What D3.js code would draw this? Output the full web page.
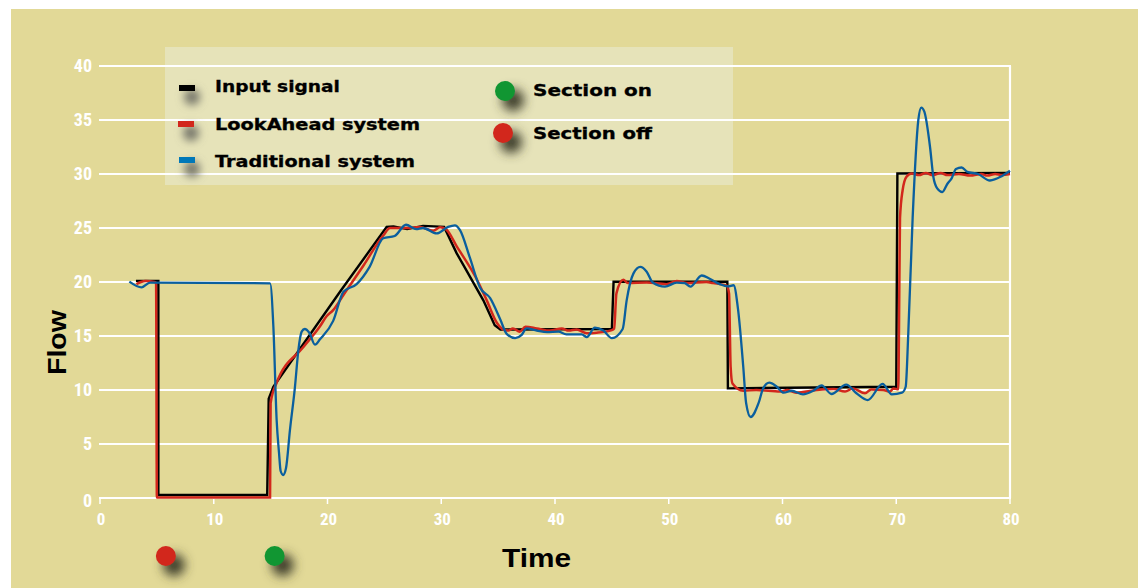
<!DOCTYPE html>
<html>
<head>
<meta charset="utf-8">
<script src="https://cdn.jsdelivr.net/npm/d3@7"></script>
<style>
  html, body { margin: 0; padding: 0; background: #fff; }
  svg { display: block; }
</style>
</head>
<body>
<div id="chart"></div>
<script>
var xTicks = [0, 10, 20, 30, 40, 50, 60, 70, 80];
var yTicks = [0, 5, 10, 15, 20, 25, 30, 35, 40];

var inputTime = [3.16, 5.13, 5.13, 14.7, 14.83, 15.24, 21.1, 25.2, 25.8, 27, 28.4, 30.25, 31.36, 31.95, 33.7, 34.7, 35.2, 45, 45.15, 55.15, 55.2, 70, 70.1, 80];
var inputFlow = [20.1, 20.1, 0.28, 0.28, 9.2, 10.3, 19.1, 25.1, 25.15, 24.9, 25.2, 25.1, 22.65, 21.57, 18.3, 16, 15.6, 15.65, 20.03, 20.03, 10.15, 10.3, 30.05, 30.1];

var lookTime = [3.2, 3.6, 4.0, 4.8, 4.93, 5.0, 14.95, 15.0, 15.5, 17.9, 19.34, 19.9, 20.5, 21.4, 23.15, 24.9, 25.5, 27, 28.1, 29.3, 29.9, 30.4, 31.36, 33.1, 34, 34.9, 35.45, 35.9, 36.3, 36.9, 37.4, 38.4, 39.56, 40.6, 41.2, 41.9, 42.8, 43.66, 45, 45.2, 45.4, 46, 46.4, 48.06, 49.8, 50.7, 51.6, 53.3, 53.9, 55.1, 55.3, 55.44, 55.6, 56.55, 57.7, 59.8, 60.4, 61.2, 63, 64.5, 65.5, 66.2, 67.25, 67.8, 68.85, 69.45, 69.75, 70.18, 70.24, 70.33, 70.56, 70.9, 71.35, 72, 72.6, 73.2, 73.9, 74.5, 75.5, 76.5, 77.5, 78, 78.7, 79.3, 80];
var lookFlow = [19.8, 20, 20.1, 20, 19.9, 0.05, 0.05, 8.8, 10.6, 14.0, 15.9, 16.8, 17.4, 18.8, 21.5, 24.3, 25, 25, 25.1, 24.75, 25.06, 24.9, 23.3, 20.3, 18.3, 16.2, 15.6, 15.5, 15.7, 15.4, 15.85, 15.7, 15.5, 15.7, 15.5, 15.6, 15.25, 15.3, 15.55, 15.7, 18.95, 20.2, 19.9, 19.95, 19.8, 20.1, 19.9, 20, 19.9, 19.65, 18.95, 12.15, 10.6, 9.93, 10, 9.85, 10, 9.75, 10, 10.1, 9.85, 10.15, 9.7, 10.05, 10, 9.85, 10.15, 10.06, 15.6, 25.9, 28.5, 29.75, 30.05, 29.9, 30.1, 29.9, 30.1, 29.9, 30, 29.85, 30, 29.85, 30, 29.9, 30];

var tradTime = [2.58, 3.66, 4.4, 14.95, 15.24, 15.53, 15.74, 15.88, 16.1, 16.35, 16.7, 17.14, 17.44, 17.73, 18.0, 18.4, 18.9, 19.34, 20.5, 21.4, 22.56, 23.7, 24.9, 25.9, 26.9, 27.8, 28.4, 29.6, 30.6, 31.2, 31.65, 32.5, 33.4, 34.3, 35.2, 35.75, 36.5, 37.07, 37.5, 38.4, 39.3, 40.3, 41.0, 42.35, 42.8, 43.5, 44.25, 45, 45.95, 46.3, 46.9, 47.5, 48.06, 48.6, 49.67, 50.7, 51.4, 51.9, 52.9, 53.6, 54.5, 55.2, 55.7, 56.1, 56.55, 56.8, 57.2, 57.9, 58.3, 58.84, 59.5, 60.1, 60.8, 61.8, 62.7, 63.44, 64.3, 65.6, 66.5, 67.5, 68.8, 69.6, 70.5, 70.83, 71.06, 71.44, 71.94, 72.2, 72.47, 72.97, 73.26, 73.6, 74.05, 74.5, 74.87, 75.25, 75.75, 76.25, 77.2, 78.24, 79.27, 80];
var tradFlow = [20.03, 19.5, 19.95, 19.88, 15.9, 7.2, 4.15, 2.5, 2.13, 2.75, 6.3, 10.3, 13.7, 15.4, 15.65, 15.3, 14.2, 14.7, 16.4, 19.1, 19.8, 21.4, 24.05, 24.26, 25.3, 24.9, 25, 24.5, 25.1, 25.25, 24.8, 22.3, 19.5, 18.5, 16.5, 15.2, 14.8, 15.1, 15.7, 15.5, 15.35, 15.4, 15.15, 15.15, 14.9, 15.77, 15.5, 14.8, 15.65, 18.3, 20.8, 21.4, 20.95, 19.95, 19.57, 19.94, 19.9, 19.57, 20.6, 20.3, 19.8, 19.6, 19.7, 17.4, 12.15, 8.8, 7.5, 8.8, 10.15, 10.68, 10.3, 9.75, 9.93, 9.6, 9.93, 10.43, 9.63, 10.5, 9.7, 9.07, 10.56, 9.6, 9.75, 10.3, 15.3, 25.9, 35, 36.15, 35.77, 32.5, 29.75, 28.67, 28.33, 29.1, 29.6, 30.46, 30.6, 30.2, 30, 29.4, 29.8, 30.3];

// switching events drawn under the axis
var offEvents = [5];
var onEvents = [15];

var width = 1144, height = 588;
var x = d3.scaleLinear().domain([0, 80]).range([100, 1010]);
var y = d3.scaleLinear().domain([0, 40]).range([498, 66]);

var svg = d3.select("#chart").append("svg")
    .attr("width", width)
    .attr("height", height);

var defs = svg.append("defs");

function softFilter(id, dev) {
  defs.append("filter")
      .attr("id", id)
      .attr("x", "-150%").attr("y", "-150%")
      .attr("width", "400%").attr("height", "400%")
    .append("feGaussianBlur").attr("stdDeviation", dev);
}
softFilter("soft", 5.5);
softFilter("softSmall", 4.5);

svg.append("rect")
    .attr("x", 11).attr("y", 9)
    .attr("width", 1127).attr("height", 579)
    .attr("fill", "#e2d997");

svg.append("rect")
    .attr("x", 165).attr("y", 47)
    .attr("width", 568).attr("height", 138)
    .attr("fill", "#e6e3b9");

// grid
svg.selectAll(".grid").data(yTicks).enter().append("line")
    .attr("class", "grid")
    .attr("x1", 99).attr("x2", 1011)
    .attr("y1", function(d) { return y(d); })
    .attr("y2", function(d) { return y(d); })
    .attr("stroke", "#fff")
    .attr("stroke-width", 2.2);

svg.append("line")
    .attr("x1", x(80)).attr("x2", x(80))
    .attr("y1", y(40)).attr("y2", y(0))
    .attr("stroke", "#fff")
    .attr("stroke-width", 2.2);

svg.selectAll(".xtick").data(xTicks).enter().append("line")
    .attr("class", "xtick")
    .attr("x1", function(d) { return x(d); })
    .attr("x2", function(d) { return x(d); })
    .attr("y1", y(0))
    .attr("y2", y(0) + 6)
    .attr("stroke", "#fff")
    .attr("stroke-width", 1.5);

var tickFont = "'Liberation Sans Narrow', 'Roboto Condensed', 'Liberation Sans', sans-serif";

svg.selectAll(".xlabel").data(xTicks).enter().append("text")
    .attr("class", "xlabel")
    .attr("x", function(d) { return x(d) + 1; })
    .attr("y", 525)
    .attr("text-anchor", "middle")
    .attr("font-family", tickFont)
    .attr("font-weight", "bold")
    .attr("font-size", 17)
    .attr("fill", "#fff")
    .text(function(d) { return d; });

svg.selectAll(".ylabel").data(yTicks).enter().append("text")
    .attr("class", "ylabel")
    .attr("x", 92)
    .attr("y", function(d) { return d == 0 ? 507 : y(d) + 5.5; })
    .attr("text-anchor", "end")
    .attr("font-family", tickFont)
    .attr("font-weight", "bold")
    .attr("font-size", 18)
    .attr("fill", "#fff")
    .text(function(d) { return d; });

// series
var stepLine = d3.line()
    .x(function(d) { return x(d[0]); })
    .y(function(d) { return y(d[1]); });

var smoothLine = d3.line()
    .x(function(d) { return x(d[0]); })
    .y(function(d) { return y(d[1]); })
    .curve(d3.curveMonotoneX);

svg.append("path")
    .attr("d", stepLine(d3.zip(inputTime, inputFlow)))
    .attr("fill", "none")
    .attr("stroke", "#000")
    .attr("stroke-width", 2.4);

svg.append("path")
    .attr("d", smoothLine(d3.zip(lookTime, lookFlow)))
    .attr("fill", "none")
    .attr("stroke", "#d2271c")
    .attr("stroke-width", 2.5);

svg.append("path")
    .attr("d", smoothLine(d3.zip(tradTime, tradFlow)))
    .attr("fill", "none")
    .attr("stroke", "#0a5f9e")
    .attr("stroke-width", 2.3);

function dot(cx, cy, color) {
  svg.append("circle")
      .attr("cx", cx + 8).attr("cy", cy + 9).attr("r", 11)
      .attr("fill", "#3c3c2c")
      .attr("filter", "url(#soft)");
  svg.append("circle")
      .attr("cx", cx).attr("cy", cy).attr("r", 10)
      .attr("fill", color);
}

offEvents.forEach(function(d) { dot(x(d) + 9, 556, "#d2271c"); });
onEvents.forEach(function(d) { dot(x(d) + 4, 556, "#119632"); });

// legend
var legendFont = "'DejaVu Sans', sans-serif";

function label(txt, lx, ly, len) {
  svg.append("text")
      .attr("x", lx).attr("y", ly)
      .attr("font-family", legendFont)
      .attr("font-weight", "bold")
      .attr("font-size", 15)
      .attr("textLength", len)
      .attr("lengthAdjust", "spacingAndGlyphs")
      .attr("fill", "#000")
      .attr("stroke", "#000")
      .attr("stroke-width", 0.3)
      .text(txt);
}

function swatch(sx, sy, color) {
  svg.append("circle")
      .attr("cx", sx + 13).attr("cy", sy + 12).attr("r", 8)
      .attr("fill", "#77776a")
      .attr("filter", "url(#softSmall)");
  svg.append("rect")
      .attr("x", sx).attr("y", sy)
      .attr("width", 16).attr("height", 6)
      .attr("fill", color);
}

swatch(179, 85, "#000");
swatch(178, 121, "#d2271c");
swatch(179, 157, "#0078b8");

label("Input signal", 215, 92, 125);
label("LookAhead system", 215, 130, 205);
label("Traditional system", 215, 167, 200);
label("Section on", 533, 96, 119);
label("Section off", 533, 139, 119);

dot(505, 91, "#119632");
dot(503, 133, "#d2271c");

// axis titles
svg.append("text")
    .attr("x", 502).attr("y", 567)
    .attr("font-family", "'Liberation Sans', sans-serif")
    .attr("font-weight", "bold")
    .attr("font-size", 26)
    .attr("textLength", 69)
    .attr("lengthAdjust", "spacingAndGlyphs")
    .attr("fill", "#000")
    .text("Time");

svg.append("text")
    .attr("transform", "translate(66,375) rotate(-90)")
    .attr("font-family", "'Liberation Sans', sans-serif")
    .attr("font-weight", "bold")
    .attr("font-size", 26)
    .attr("textLength", 65)
    .attr("lengthAdjust", "spacingAndGlyphs")
    .attr("fill", "#000")
    .text("Flow");
</script>
</body>
</html>
